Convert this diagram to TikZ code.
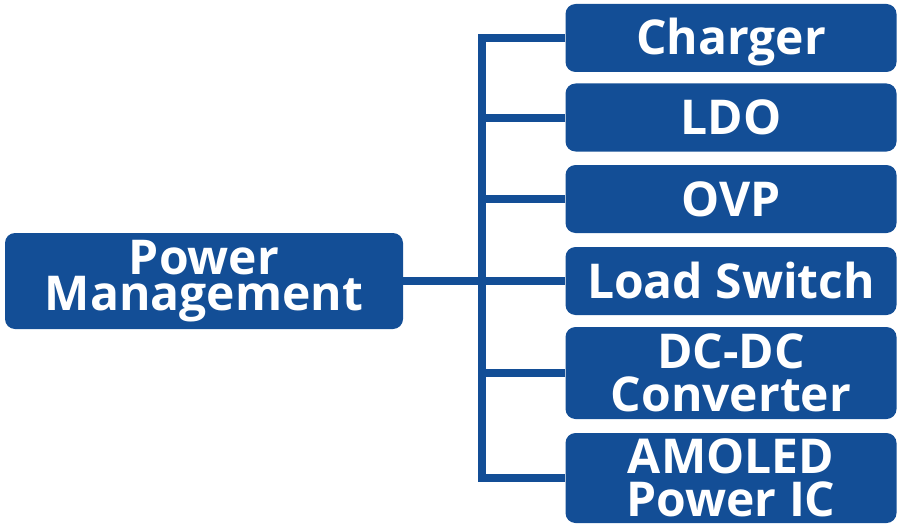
\documentclass[tikz,border=0pt]{standalone}
\usepackage{fontspec}
\setmainfont{Open Sans}
\definecolor{pmblue}{RGB}{19,78,150}
\begin{document}
\begin{tikzpicture}[x=1pt,y=-1pt,
  box/.style={fill=pmblue, draw=none, rounded corners=10pt, inner sep=0pt,
    text=white, align=center, font=\bfseries\fontsize{48}{43}\selectfont},
  single/.style={box, minimum width=331pt, minimum height=68pt, text height=34pt, text depth=0pt},
  double/.style={box, minimum width=331pt},
  link/.style={draw=pmblue, line width=8pt}]
\useasboundingbox (0,0) rectangle (897,527);
\node[box, minimum width=398pt, minimum height=96pt, font=\bfseries\fontsize{48}{36}\selectfont] (pm) at (204,281) {Power\\Management};
\node[single] (charger) at (731,38) {Charger};
\node[single] (ldo) at (731,117.5) {LDO};
\node[single] (ovp) at (731,199) {OVP};
\node[single] (ls) at (731,281) {Load Switch};
\node[double, minimum height=92pt] (dcdc) at (731,373) {DC-DC\\Converter};
\node[double, minimum height=90pt] (amoled) at (731,478) {AMOLED\\Power IC};
\coordinate (t) at (482,0);
\draw[link] (pm.east) -- (ls.west);
\draw[link] (charger.west) -- (charger.west -| t) |- (amoled.west);
\draw[link] (ldo.west) -- (ldo.west -| t);
\draw[link] (ovp.west) -- (ovp.west -| t);
\draw[link] (dcdc.west) -- (dcdc.west -| t);
\end{tikzpicture}
\end{document}
